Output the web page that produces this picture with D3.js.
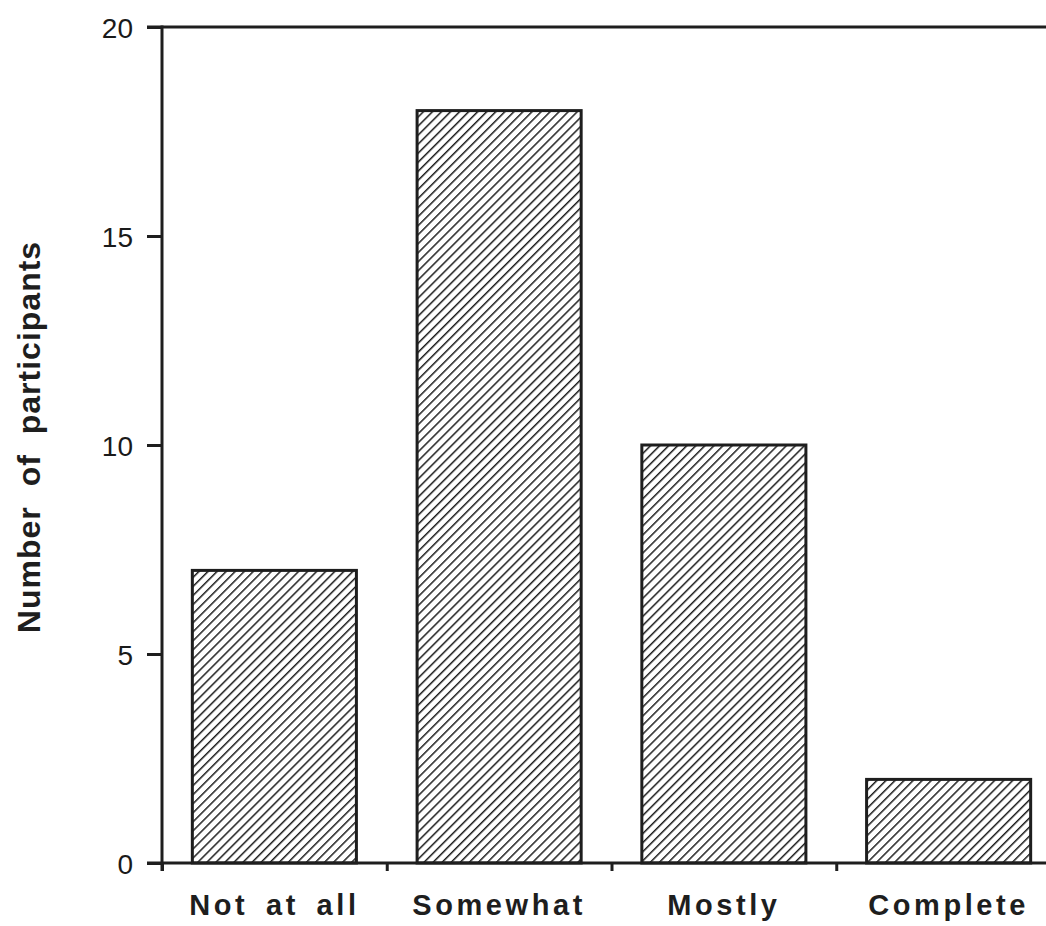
<!DOCTYPE html>
<html>
<head>
<meta charset="utf-8">
<script src="https://cdn.jsdelivr.net/npm/d3@7"></script>
<style>
  body { margin: 0; background: #fff; }
  svg { display: block; }
  .tick text { font-family: "Liberation Sans", Arial, sans-serif; fill: #1a1a1a; }
</style>
</head>
<body>
<svg id="chart"></svg>
<script>
const categories = ['Not at all', 'Somewhat', 'Mostly', 'Complete'];
const participants = [7, 18, 10, 2];
const yTicks = [0, 5, 10, 15, 20];

const width = 1046, height = 926;
const ink = '#1e1e1e';

const svg = d3.select('#chart')
    .attr('width', width)
    .attr('height', height);

// plot area, the last band runs off the right edge like in the scan
const plotLeft = 162, plotRight = 1061, plotTop = 27, plotBottom = 863;

const yScale = d3.scaleLinear()
    .domain([0, 20])
    .range([plotBottom, plotTop]);

const xScale = d3.scaleBand()
    .domain(categories)
    .range([plotLeft, plotRight])
    .paddingInner(0.27)
    .paddingOuter(0.135);

// boundaries between categories, for the little tick marks
const edgeScale = d3.scaleLinear()
    .domain([0, categories.length])
    .range([plotLeft, plotRight]);

const defs = svg.append('defs');
defs.append('pattern')
    .attr('id', 'hatch')
    .attr('patternUnits', 'userSpaceOnUse')
    .attr('width', 6.4)
    .attr('height', 6.4)
    .attr('patternTransform', 'rotate(45)')
    .append('line')
    .attr('x1', 0).attr('y1', 0)
    .attr('x2', 0).attr('y2', 6.4)
    .attr('stroke', ink)
    .attr('stroke-width', 3);

// bars
svg.append('g').classed('bars', true)
    .selectAll('rect')
    .data(participants)
    .enter().append('rect')
    .attr('x', (d, i) => xScale(categories[i]))
    .attr('y', d => yScale(d))
    .attr('width', xScale.bandwidth())
    .attr('height', d => yScale(0) - yScale(d))
    .attr('fill', 'url(#hatch)')
    .attr('stroke', ink)
    .attr('stroke-width', 3);

// y axis
const yAxis = d3.axisLeft(yScale)
    .tickValues(yTicks)
    .tickSize(15)
    .tickPadding(14)
    .tickFormat(d3.format('d'));

const yG = svg.append('g').classed('y-axis', true)
    .attr('transform', 'translate(' + plotLeft + ',0)')
    .call(yAxis);
yG.select('.domain').remove();
yG.selectAll('.tick line').attr('stroke', ink).attr('stroke-width', 3);
yG.selectAll('.tick text')
    .attr('font-size', 28)
    .attr('dy', '0.36em');

svg.append('line')
    .attr('x1', plotLeft).attr('x2', plotLeft)
    .attr('y1', plotTop - 1.5).attr('y2', plotBottom + 8)
    .attr('stroke', ink).attr('stroke-width', 3);

// top frame line
svg.append('line')
    .attr('x1', plotLeft - 15).attr('x2', width)
    .attr('y1', yScale(20)).attr('y2', yScale(20))
    .attr('stroke', ink).attr('stroke-width', 3);

// x axis
const xAxis = d3.axisBottom(edgeScale)
    .tickValues(d3.range(categories.length + 1))
    .tickSize(8)
    .tickFormat('');

const xG = svg.append('g').classed('x-axis', true)
    .attr('transform', 'translate(0,' + plotBottom + ')')
    .call(xAxis);
xG.select('.domain').remove();
xG.selectAll('.tick line').attr('stroke', ink).attr('stroke-width', 3);

svg.append('line')
    .attr('x1', plotLeft - 15).attr('x2', width)
    .attr('y1', plotBottom).attr('y2', plotBottom)
    .attr('stroke', ink).attr('stroke-width', 3);

svg.append('g').classed('x-labels', true)
    .selectAll('text')
    .data(categories)
    .enter().append('text')
    .attr('x', d => xScale(d) + xScale.bandwidth() / 2)
    .attr('y', 915)
    .attr('text-anchor', 'middle')
    .attr('font-family', '"Liberation Sans", Arial, sans-serif')
    .attr('font-weight', 'bold')
    .attr('font-size', 29)
    .attr('letter-spacing', 3.6)
    .attr('word-spacing', 6)
    .attr('fill', ink)
    .text(d => d);

// axis title
svg.append('text')
    .attr('transform', 'translate(40,437) rotate(-90)')
    .attr('text-anchor', 'middle')
    .attr('font-family', '"Liberation Sans", Arial, sans-serif')
    .attr('font-weight', 'bold')
    .attr('font-size', 32)
    .attr('letter-spacing', 1)
    .attr('word-spacing', 10)
    .attr('fill', ink)
    .text('Number of participants');
</script>
</body>
</html>
